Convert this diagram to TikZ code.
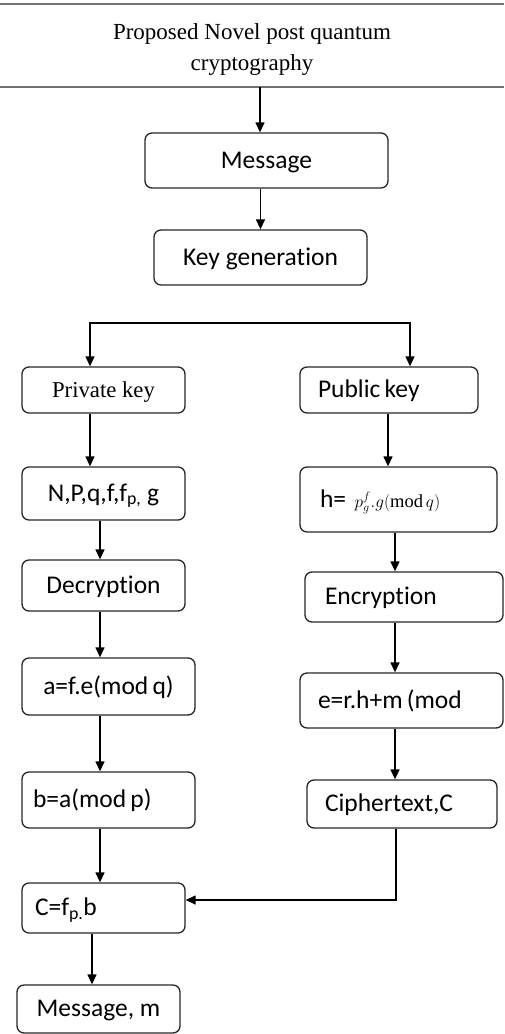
\documentclass[tikz,border=0pt]{standalone}
\usepackage{fontspec}
\setmainfont{Carlito}[Ligatures=NoCommon]
\newfontfamily\serifface{Liberation Serif}
\usetikzlibrary{arrows.meta,calc}
\begin{document}
\begin{tikzpicture}[x=1pt,y=-1pt,
  box/.style={draw=black!85, line width=1.3pt, rounded corners=7pt, inner ysep=0pt,
              text height=18pt, text depth=3pt,
              font=\fontsize{25.5}{28}\selectfont, align=center},
  lbox/.style={box, align=left},
  flow/.style={-{Triangle[length=10pt,width=9pt]}, line width=1.3pt},
  titlerule/.style={draw=black!55, line width=2.2pt}]
\useasboundingbox (0,0) rectangle (504,1034);

% title band
\node (title) [minimum width=504pt, minimum height=83pt, inner sep=0pt] at (252,45.5) {};
\node (titletext) [inner sep=0pt, font=\serifface\fontsize{23}{30.5}\selectfont, align=center]
  at ([yshift=-4pt]title.center) {Proposed Novel post quantum\\cryptography};
\draw[titlerule] (title.north west) -- (title.north east);
\draw[titlerule] (title.south west) -- (title.south east);

% central column
\node[box, minimum width=243pt, minimum height=55pt] (msg) at (266.5,160.5) {Message};
\node[box, minimum width=213pt, minimum height=55pt] (keygen) at (260.5,257.5) {Key generation};

% private-key branch
\node[box, minimum width=163pt, minimum height=46pt, font=\serifface\fontsize{22.7}{26}\selectfont]
  (priv) at (103.5,390) {Private key};
\node[box, minimum width=163pt, minimum height=53pt] (npq) at (103.5,493.5)
  {N,P,q,f,f\textsubscript{p,} g};
\node[box, minimum width=163pt, minimum height=51pt] (dec) at (103.5,585.5) {Decryption};
\node[box, minimum width=173pt, minimum height=57pt] (abox) at (108.5,686.5) {a=f.e(mod\,q)};
\node[lbox, minimum width=173pt, minimum height=56pt, text width=151pt, inner xsep=11pt]
  (bbox) at (108.5,800) {b=a(mod\,p)};
\node[lbox, minimum width=163pt, minimum height=50pt, text width=137pt, inner xsep=13pt]
  (cbox) at (103.5,908) {C=f\textsubscript{p.}b};
\node[box, minimum width=163pt, minimum height=48pt] (msgm) at (98.5,1009) {Message, m};

% public-key branch
\node[lbox, minimum width=178pt, minimum height=46pt, text width=142pt, inner xsep=18pt]
  (pub) at (389,390) {Public\,key};
\node[lbox, minimum width=197pt, minimum height=65pt, text width=157pt, inner xsep=20pt]
  (hbox) at (398.5,499.5)
  {h= {\fontsize{18.5}{18.5}\selectfont$p_g^f.g(\hbox{\serifface mod}\,q)$}};
\node[lbox, minimum width=198pt, minimum height=50pt, text width=158pt, inner xsep=20pt]
  (enc) at (404,597) {Encryption};
\node[lbox, minimum width=203pt, minimum height=55pt, text width=167pt, inner xsep=18pt]
  (ebox) at (401.5,700.5) {e=r.h+m\,(mod};
\node[lbox, minimum width=190pt, minimum height=48pt, text width=154pt, inner xsep=18pt]
  (ciph) at (402,804) {Ciphertext,C};

% lanes and corner points of the connectors
\coordinate (splitL) at (90,323);
\coordinate (splitR) at (410,323);
\coordinate (laneA) at (100,0);
\coordinate (laneB) at (92,0);
\coordinate (laneC) at (388,0);
\coordinate (laneD) at (395,0);
\coordinate (turn) at (396,900);

% connectors
\draw[flow] ([xshift=-6.5pt]msg.north |- title.south) -- ([xshift=-6.5pt]msg.north);
\draw[flow] (keygen.north |- msg.south) -- (keygen.north);
\draw[flow, {Triangle[length=10pt,width=9pt]}-{Triangle[length=10pt,width=9pt]}]
  (splitL |- priv.north) -- (splitL) -- (splitR) -- (splitR |- pub.north);
\draw[flow] (splitL |- priv.south) -- (splitL |- npq.north);
\draw[flow] (npq.south -| laneA) -- (dec.north -| laneA);
\draw[flow] (dec.south -| laneA) -- (abox.north -| laneA);
\draw[flow] (abox.south -| laneA) -- (bbox.north -| laneA);
\draw[flow] (bbox.south -| laneA) -- (cbox.north -| laneA);
\draw[flow] (cbox.south -| laneB) -- (msgm.north -| laneB);
\draw[flow] (pub.south -| laneC) -- (hbox.north -| laneC);
\draw[flow] (hbox.south -| laneD) -- (enc.north -| laneD);
\draw[flow] (enc.south -| laneD) -- (ebox.north -| laneD);
\draw[flow] (ebox.south -| laneD) -- (ciph.north -| laneD);
\draw[flow] (ciph.south -| turn) -- (turn) -- (cbox.east |- turn);
\end{tikzpicture}
\end{document}
